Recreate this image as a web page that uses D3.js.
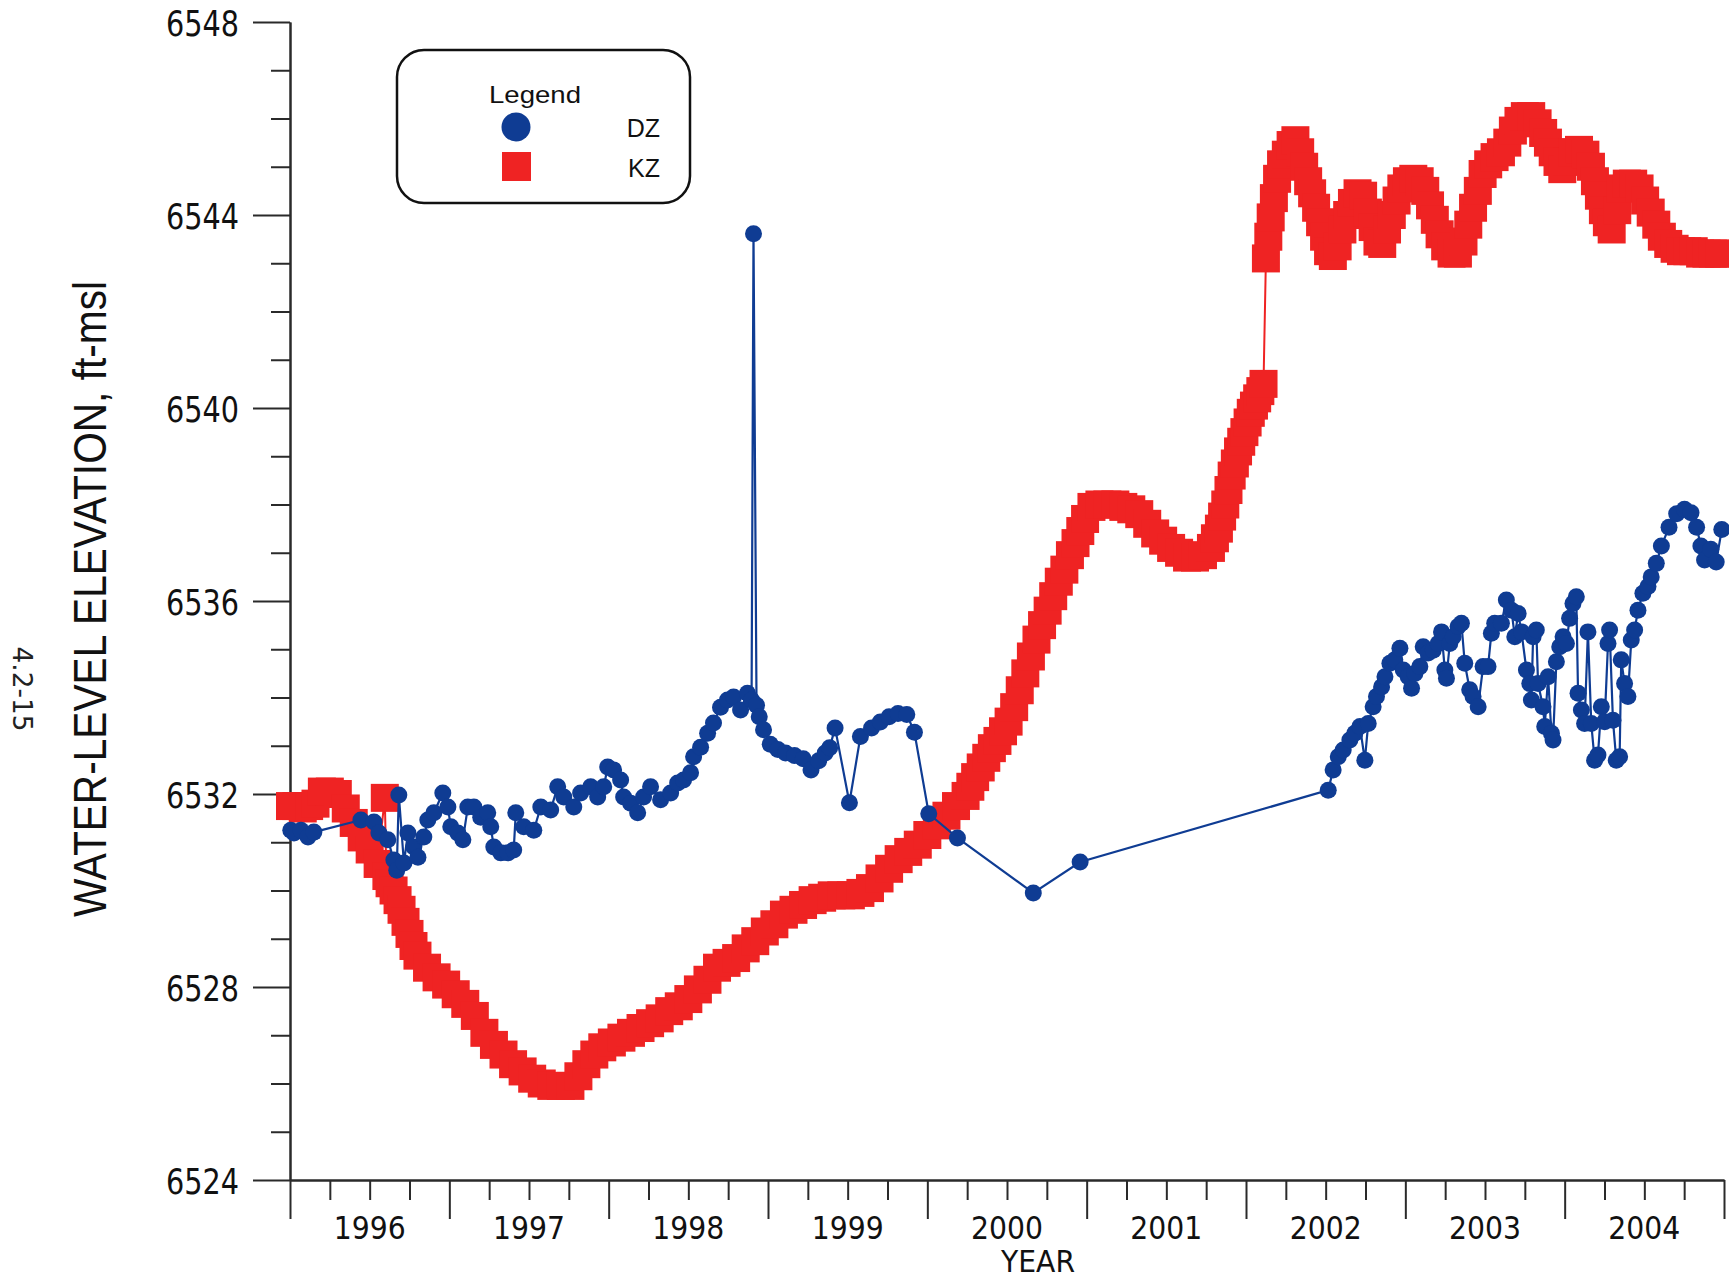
<!DOCTYPE html>
<html><head><meta charset="utf-8">
<script src="https://cdn.jsdelivr.net/npm/d3@7"></script>
<style>body{margin:0;background:#fff}svg{display:block}</style>
</head><body><svg id="c" width="1729" height="1283"></svg>
<script>
// ---------- data ----------
const yearLabels = ["1996","1997","1998","1999","2000","2001","2002","2003","2004"];
const yearBounds = [1996,1997,1998,1999,2000,2001,2002,2003,2004,2005];
const yMajorTicks = [6524,6528,6532,6536,6540,6544,6548];
const seriesNames = ["DZ","KZ"];

// DZ water levels [decimal year, ft-msl]
const dzSeries = [
[1996.005,6531.25],[1996.025,6531.19],[1996.069,6531.25],[1996.113,6531.11],[1996.150,6531.21],
[1996.445,6531.46],[1996.527,6531.42],[1996.558,6531.19],[1996.614,6531.05],[1996.652,6530.63],
[1996.670,6530.42],[1996.683,6531.98],[1996.715,6530.57],[1996.740,6531.19],[1996.777,6530.90],
[1996.803,6530.69],[1996.840,6531.11],[1996.865,6531.46],[1996.903,6531.61],[1996.959,6532.02],
[1996.991,6531.73],[1997.009,6531.32],[1997.053,6531.19],[1997.085,6531.05],[1997.116,6531.73],
[1997.154,6531.73],[1997.197,6531.52],[1997.241,6531.61],[1997.260,6531.32],[1997.279,6530.90],
[1997.323,6530.78],[1997.367,6530.78],[1997.404,6530.84],[1997.417,6531.61],[1997.467,6531.32],
[1997.530,6531.25],[1997.574,6531.73],[1997.636,6531.67],[1997.680,6532.15],[1997.718,6531.94],
[1997.781,6531.73],[1997.824,6532.02],[1997.887,6532.15],[1997.931,6531.94],[1997.969,6532.15],
[1997.994,6532.56],[1998.031,6532.50],[1998.075,6532.29],[1998.094,6531.94],[1998.138,6531.81],
[1998.182,6531.61],[1998.219,6531.94],[1998.263,6532.15],[1998.326,6531.88],[1998.389,6532.02],
[1998.433,6532.23],[1998.470,6532.29],[1998.514,6532.44],[1998.533,6532.77],[1998.577,6532.97],
[1998.621,6533.26],[1998.658,6533.47],[1998.702,6533.80],[1998.746,6533.95],[1998.784,6534.01],
[1998.828,6533.74],[1998.871,6534.09],[1998.897,6533.95],[1998.909,6543.61],[1998.928,6533.84],
[1998.945,6533.60],[1998.972,6533.33],[1999.014,6533.03],[1999.062,6532.92],[1999.110,6532.85],
[1999.166,6532.80],[1999.221,6532.73],[1999.270,6532.50],[1999.318,6532.69],[1999.359,6532.85],
[1999.387,6532.96],[1999.421,6533.37],[1999.511,6531.82],[1999.580,6533.19],[1999.650,6533.37],
[1999.705,6533.49],[1999.760,6533.60],[1999.816,6533.67],[1999.871,6533.65],[1999.919,6533.28],
[2000.009,6531.59],[2000.189,6531.09],[2000.665,6529.95],[2000.959,6530.59],
[2002.516,6532.08],[2002.547,6532.50],[2002.579,6532.77],[2002.610,6532.91],[2002.652,6533.12],
[2002.683,6533.26],[2002.715,6533.40],[2002.746,6532.70],[2002.767,6533.46],[2002.798,6533.81],
[2002.819,6534.02],[2002.851,6534.22],[2002.872,6534.43],[2002.903,6534.71],[2002.934,6534.78],
[2002.966,6535.02],[2002.987,6534.57],[2003.018,6534.43],[2003.039,6534.19],[2003.060,6534.50],
[2003.091,6534.64],[2003.112,6535.05],[2003.143,6534.92],[2003.175,6534.98],[2003.206,6535.12],
[2003.227,6535.36],[2003.248,6534.57],[2003.258,6534.40],[2003.279,6535.12],[2003.300,6535.26],
[2003.331,6535.47],[2003.352,6535.54],[2003.373,6534.71],[2003.404,6534.16],[2003.425,6534.02],
[2003.457,6533.81],[2003.488,6534.64],[2003.519,6534.64],[2003.540,6535.33],[2003.561,6535.54],
[2003.603,6535.54],[2003.634,6536.02],[2003.666,6535.81],[2003.687,6535.26],[2003.708,6535.74],
[2003.729,6535.36],[2003.760,6534.57],[2003.781,6534.29],[2003.791,6533.95],[2003.802,6535.26],
[2003.822,6535.40],[2003.833,6534.29],[2003.864,6533.81],[2003.875,6533.40],[2003.896,6534.43],
[2003.917,6533.26],[2003.927,6533.12],[2003.948,6534.74],[2003.969,6535.05],[2003.990,6535.26],
[2004.011,6535.12],[2004.031,6535.64],[2004.052,6535.95],[2004.073,6536.09],[2004.084,6534.09],
[2004.105,6533.74],[2004.125,6533.46],[2004.146,6535.36],[2004.167,6533.46],[2004.188,6532.70],
[2004.209,6532.81],[2004.230,6533.81],[2004.251,6533.50],[2004.272,6535.12],[2004.282,6535.40],
[2004.303,6533.53],[2004.324,6532.70],[2004.345,6532.77],[2004.355,6534.78],[2004.376,6534.29],
[2004.397,6534.02],[2004.418,6535.19],[2004.439,6535.40],[2004.460,6535.81],[2004.491,6536.16],
[2004.523,6536.30],[2004.543,6536.50],[2004.575,6536.78],[2004.607,6537.14],[2004.655,6537.53],
[2004.703,6537.81],[2004.752,6537.90],[2004.793,6537.83],[2004.828,6537.53],[2004.855,6537.14],
[2004.878,6536.85],[2004.917,6537.07],[2004.951,6536.81],[2004.986,6537.48]
];

// KZ water levels [decimal year, ft-msl]
const kzSeries = [
[1996.00,6531.75],[1996.04,6531.75],[1996.08,6531.70],[1996.12,6531.75],[1996.16,6531.80],
[1996.20,6532.05],[1996.25,6532.05],[1996.30,6532.00],[1996.35,6531.70],[1996.40,6531.40],
[1996.45,6531.10],[1996.50,6530.85],[1996.55,6530.55],[1996.595,6531.92],[1996.605,6530.30],
[1996.625,6530.15],[1996.65,6530.00],[1996.675,6529.80],[1996.70,6529.60],[1996.725,6529.35],
[1996.75,6529.10],[1996.775,6528.85],[1996.80,6528.65],[1996.86,6528.40],[1996.92,6528.20],
[1996.98,6528.05],[1997.04,6527.85],[1997.10,6527.65],[1997.16,6527.40],[1997.22,6527.05],
[1997.28,6526.80],[1997.34,6526.60],[1997.40,6526.40],[1997.46,6526.25],[1997.52,6526.10],
[1997.58,6526.00],[1997.64,6525.95],[1997.70,6525.95],[1997.76,6525.95],[1997.81,6526.15],
[1997.86,6526.40],[1997.91,6526.60],[1997.96,6526.75],[1998.02,6526.85],[1998.08,6526.95],
[1998.14,6527.05],[1998.20,6527.15],[1998.26,6527.25],[1998.32,6527.35],[1998.38,6527.50],
[1998.44,6527.60],[1998.50,6527.75],[1998.56,6527.95],[1998.62,6528.15],[1998.68,6528.40],
[1998.74,6528.50],[1998.80,6528.60],[1998.86,6528.80],[1998.92,6528.95],[1998.98,6529.15],
[1999.04,6529.30],[1999.10,6529.50],[1999.16,6529.60],[1999.22,6529.70],[1999.28,6529.80],
[1999.34,6529.85],[1999.40,6529.90],[1999.46,6529.90],[1999.52,6529.90],[1999.58,6529.95],
[1999.64,6530.05],[1999.70,6530.25],[1999.76,6530.45],[1999.82,6530.65],[1999.88,6530.80],
[1999.94,6530.95],[2000.00,6531.15],[2000.06,6531.35],[2000.12,6531.55],[2000.18,6531.75],
[2000.24,6531.96],[2000.27,6532.15],[2000.30,6532.35],[2000.335,6532.55],[2000.37,6532.75],
[2000.405,6532.95],[2000.44,6533.10],[2000.475,6533.30],[2000.51,6533.50],[2000.545,6533.80],
[2000.58,6534.15],[2000.615,6534.50],[2000.65,6534.85],[2000.685,6535.20],[2000.72,6535.50],
[2000.755,6535.80],[2000.79,6536.10],[2000.825,6536.40],[2000.86,6536.65],[2000.895,6536.95],
[2000.93,6537.20],[2000.96,6537.45],[2000.99,6537.70],[2001.03,6537.95],[2001.08,6538.00],
[2001.13,6538.00],[2001.18,6538.00],[2001.23,6537.95],[2001.28,6537.90],[2001.33,6537.80],
[2001.38,6537.60],[2001.43,6537.40],[2001.48,6537.25],[2001.53,6537.10],[2001.58,6537.00],
[2001.63,6536.90],[2001.68,6536.90],[2001.73,6536.95],[2001.78,6537.10],[2001.805,6537.30],
[2001.83,6537.50],[2001.85,6537.75],[2001.87,6538.00],[2001.89,6538.30],[2001.91,6538.60],
[2001.93,6538.85],[2001.95,6539.10],[2001.97,6539.30],[2001.99,6539.50],[2002.01,6539.70],
[2002.03,6539.90],[2002.05,6540.05],[2002.07,6540.20],[2002.09,6540.35],[2002.11,6540.50],
[2002.125,6543.10],[2002.140,6543.55],[2002.155,6543.95],[2002.175,6544.35],[2002.195,6544.75],
[2002.220,6545.05],[2002.250,6545.25],[2002.280,6545.45],[2002.310,6545.55],[2002.340,6545.30],
[2002.365,6545.00],[2002.390,6544.70],[2002.415,6544.45],[2002.440,6544.15],[2002.465,6543.85],
[2002.490,6543.55],[2002.515,6543.25],[2002.545,6543.15],[2002.575,6543.35],[2002.605,6543.70],
[2002.635,6544.00],[2002.665,6544.25],[2002.700,6544.45],[2002.735,6544.40],[2002.765,6544.05],
[2002.795,6543.75],[2002.825,6543.45],[2002.855,6543.40],[2002.885,6543.70],[2002.915,6544.00],
[2002.945,6544.30],[2002.975,6544.55],[2003.010,6544.70],[2003.050,6544.75],[2003.090,6544.70],
[2003.125,6544.50],[2003.155,6544.20],[2003.185,6543.90],[2003.215,6543.60],[2003.250,6543.35],
[2003.290,6543.20],[2003.330,6543.20],[2003.365,6543.45],[2003.395,6543.80],[2003.425,6544.15],
[2003.455,6544.50],[2003.485,6544.85],[2003.520,6545.05],[2003.560,6545.20],[2003.600,6545.30],
[2003.640,6545.50],[2003.675,6545.75],[2003.710,6545.95],[2003.750,6546.05],[2003.790,6546.05],
[2003.830,6545.90],[2003.865,6545.70],[2003.895,6545.50],[2003.925,6545.30],[2003.955,6545.10],
[2003.985,6544.95],[2004.015,6545.10],[2004.050,6545.30],[2004.090,6545.35],[2004.130,6545.25],
[2004.165,6545.00],[2004.190,6544.70],[2004.215,6544.40],[2004.240,6544.10],[2004.265,6543.85],
[2004.295,6543.70],[2004.330,6544.10],[2004.350,6544.55],[2004.390,6544.65],[2004.430,6544.65],
[2004.470,6544.55],[2004.505,6544.30],[2004.540,6544.05],[2004.575,6543.80],[2004.610,6543.55],
[2004.650,6543.40],[2004.690,6543.30],[2004.730,6543.25],[2004.770,6543.25],[2004.810,6543.25],
[2004.850,6543.20],[2004.890,6543.20],[2004.930,6543.20],[2004.970,6543.20],[2005.000,6543.20]
];

// ---------- drawing ----------
const BLUE = "#0f3c93", RED = "#ef2323", AX = "#2a2a2a";
const svg = d3.select("#c");
svg.append("rect").attr("width",1729).attr("height",1283).attr("fill","#fff");

const x = d3.scaleLinear().domain([1996, 2005]).range([290, 1724]);
const y = d3.scaleLinear().domain([6524, 6548]).range([1180, 22]);

function styleAxis(g){
  g.selectAll("path.domain").attr("stroke",AX).attr("stroke-width",2);
  g.selectAll(".tick line").attr("stroke",AX).attr("stroke-width",2);
  g.selectAll(".tick text").remove();
}
// y axis
const yMinor = d3.range(6524, 6549).filter(v => !yMajorTicks.includes(v));
svg.append("g").attr("transform","translate(290,0)")
  .call(d3.axisLeft(y).tickValues(yMinor).tickSize(19).tickSizeOuter(0)).call(styleAxis);
svg.append("g").attr("transform","translate(290,0)")
  .call(d3.axisLeft(y).tickValues(yMajorTicks).tickSize(37).tickSizeOuter(0)).call(styleAxis);
// x axis
const xMinor = [];
yearBounds.slice(0,-1).forEach(b => { xMinor.push(b+0.25, b+0.5, b+0.75); });
svg.append("g").attr("transform","translate(0,1180)")
  .call(d3.axisBottom(x).tickValues(xMinor).tickSize(20).tickSizeOuter(0)).call(styleAxis);
svg.append("g").attr("transform","translate(0,1180)")
  .call(d3.axisBottom(x).tickValues(yearBounds).tickSize(39).tickSizeOuter(0)).call(styleAxis);

// tick labels
svg.append("g").selectAll("text").data(yMajorTicks).join("text")
  .attr("x", 239).attr("y", d => y(d) + 13.5)
  .attr("text-anchor","end")
  .attr("font-family","'DejaVu Sans', Verdana, sans-serif").attr("font-size",36)
  .attr("textLength",73).attr("lengthAdjust","spacingAndGlyphs")
  .attr("fill","#111").text(d => d);
svg.append("g").selectAll("text").data(yearLabels).join("text")
  .attr("x", d => x(+d + 0.5)).attr("y", 1239)
  .attr("text-anchor","middle")
  .attr("font-family","'DejaVu Sans', Verdana, sans-serif").attr("font-size",32)
  .attr("textLength",72).attr("lengthAdjust","spacingAndGlyphs")
  .attr("fill","#111").text(d => d);

// axis titles
svg.append("text").attr("x",1038).attr("y",1272).attr("text-anchor","middle")
  .attr("font-family","'DejaVu Sans', Verdana, sans-serif").attr("font-size",31)
  .attr("textLength",74).attr("lengthAdjust","spacingAndGlyphs")
  .attr("fill","#111").text("YEAR");
svg.append("text").attr("transform","translate(106,599) rotate(-90)").attr("text-anchor","middle")
  .attr("font-family","'Liberation Sans', Arial, sans-serif").attr("font-size",47)
  .attr("textLength",636).attr("lengthAdjust","spacingAndGlyphs")
  .attr("fill","#111").text("WATER-LEVEL ELEVATION, ft-msl");
svg.append("text").attr("transform","translate(13,689) rotate(90)").attr("text-anchor","middle")
  .attr("font-family","'DejaVu Sans', Verdana, sans-serif").attr("font-size",27)
  .attr("textLength",85).attr("lengthAdjust","spacingAndGlyphs")
  .attr("fill","#222").text("4.2-15");

// KZ series
const SQ = 28;
svg.append("path").datum(kzSeries)
  .attr("d", d3.line().x(d => x(d[0])).y(d => y(d[1])))
  .attr("fill","none").attr("stroke",RED).attr("stroke-width",2);
svg.append("g").selectAll("rect").data(kzSeries).join("rect")
  .attr("x", d => x(d[0]) - SQ/2).attr("y", d => y(d[1]) - SQ/2)
  .attr("width",SQ).attr("height",SQ).attr("fill",RED);

// DZ series
svg.append("path").datum(dzSeries)
  .attr("d", d3.line().x(d => x(d[0])).y(d => y(d[1])))
  .attr("fill","none").attr("stroke",BLUE).attr("stroke-width",2.2);
svg.append("g").selectAll("circle").data(dzSeries).join("circle")
  .attr("cx", d => x(d[0])).attr("cy", d => y(d[1])).attr("r",8.5).attr("fill",BLUE);

// legend
const lg = svg.append("g");
lg.append("rect").attr("x",397).attr("y",50).attr("width",293).attr("height",153).attr("rx",27)
  .attr("fill","#fff").attr("stroke","#111").attr("stroke-width",2.5);
lg.append("text").attr("x",535).attr("y",103).attr("text-anchor","middle")
  .attr("font-family","'Liberation Sans', Arial, sans-serif").attr("font-size",24)
  .attr("textLength",92).attr("lengthAdjust","spacingAndGlyphs").attr("fill","#111").text("Legend");
lg.append("circle").attr("cx",516).attr("cy",127).attr("r",14.5).attr("fill",BLUE);
lg.append("rect").attr("x",502).attr("y",152).attr("width",29).attr("height",29).attr("fill",RED);
lg.selectAll("text.s").data(seriesNames).join("text").attr("class","s")
  .attr("x",660).attr("y",(d,i) => 137 + i*40).attr("text-anchor","end")
  .attr("font-family","'Liberation Sans', Arial, sans-serif").attr("font-size",25)
  .attr("fill","#111").text(d => d);
</script></body></html>
